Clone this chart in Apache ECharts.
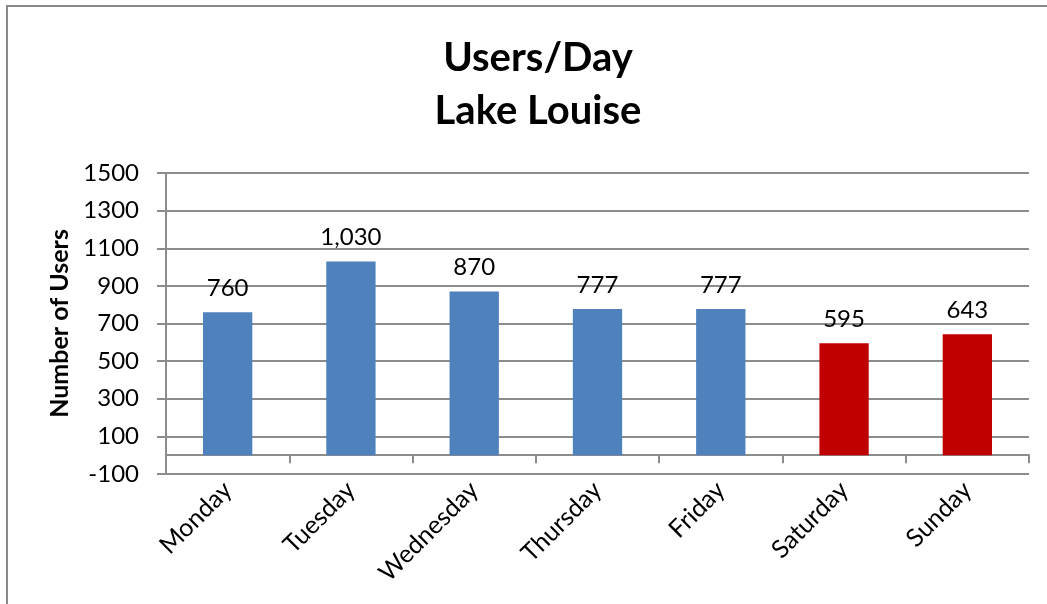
<!DOCTYPE html>
<html>
<head>
<meta charset="utf-8">
<title>Users/Day Lake Louise</title>
<script src="https://cdn.jsdelivr.net/npm/echarts@6/dist/echarts.min.js"></script>
<style>
  html, body { margin: 0; padding: 0; background: #fff; }
  #chart { width: 1047px; height: 604px; }
</style>
</head>
<body>
<div id="chart"></div>
<script>
// data
const days = ['Monday', 'Tuesday', 'Wednesday', 'Thursday', 'Friday', 'Saturday', 'Sunday']
const users = [760, 1030, 870, 777, 777, 595, 643]
const weekend = [false, false, false, false, false, true, true]
const yTicks = [-100, 100, 300, 500, 700, 900, 1100, 1300, 1500]

const FONT = 'Lato, "Open Sans", sans-serif'
const BLUE = '#4F81BD'
const RED = '#C00000'
const GRID = '#8c8c8c'

const chart = echarts.init(document.getElementById('chart'), null, { renderer: 'canvas' })

const option = {
  backgroundColor: '#fff',
  animation: false,
  textStyle: { fontFamily: FONT },
  title: {
    text: 'Users/Day\nLake Louise',
    left: 533,
    textAlign: 'center',
    top: 27,
    textStyle: { fontSize: 40, fontWeight: 'bold', color: '#000', lineHeight: 53, fontFamily: FONT }
  },
  graphic: [
    {
      type: 'rect',
      shape: { x: 7, y: 6, width: 1100, height: 700 },
      style: { fill: 'none', stroke: '#8a8a8a', lineWidth: 2 },
      silent: true
    }
  ],
  grid: { left: 166, right: 18, top: 173, bottom: 130, containLabel: false },
  xAxis: {
    type: 'category',
    data: days,
    boundaryGap: true,
    axisLine: { onZero: true, onZeroAxisIndex: 0, lineStyle: { color: GRID, width: 2 } },
    axisTick: { show: true, length: 8, alignWithLabel: false, lineStyle: { color: GRID, width: 2 } },
    axisLabel: { rotate: 45, margin: 12, fontSize: 25, color: '#000', fontFamily: FONT, interval: 0 }
  },
  yAxis: [
    {
      // true value scale, used by the bars
      type: 'value',
      min: -100,
      max: 1500,
      show: false,
      splitLine: { show: false }
    },
    {
      // label scale shifted by 100 so ticks fall on -100, 100, 300 ...
      type: 'value',
      position: 'left',
      min: 0,
      max: 1600,
      interval: 200,
      name: 'Number of Users',
      nameLocation: 'middle',
      nameGap: 93,
      nameRotate: 90,
      nameTextStyle: { fontSize: 25, fontWeight: 'bold', color: '#000', fontFamily: FONT },
      axisLine: { show: true, lineStyle: { color: GRID, width: 2 } },
      axisTick: { show: true, length: 9, lineStyle: { color: GRID, width: 2 } },
      axisLabel: {
        fontSize: 24,
        color: '#000',
        margin: 27,
        fontFamily: FONT,
        formatter: (v) => String(yTicks[Math.round(v / 200)])
      },
      splitLine: { show: true, lineStyle: { color: GRID, width: 2 } }
    }
  ],
  series: [
    {
      type: 'bar',
      yAxisIndex: 0,
      barWidth: '40%',
      data: users.map((v, i) => ({
        value: v,
        itemStyle: { color: weekend[i] ? RED : BLUE }
      })),
      label: {
        show: true,
        position: 'top',
        distance: 12,
        fontSize: 24,
        color: '#000',
        fontFamily: FONT,
        formatter: (p) => p.value.toLocaleString('en-US')
      }
    }
  ]
}

chart.setOption(option)
</script>
</body>
</html>
